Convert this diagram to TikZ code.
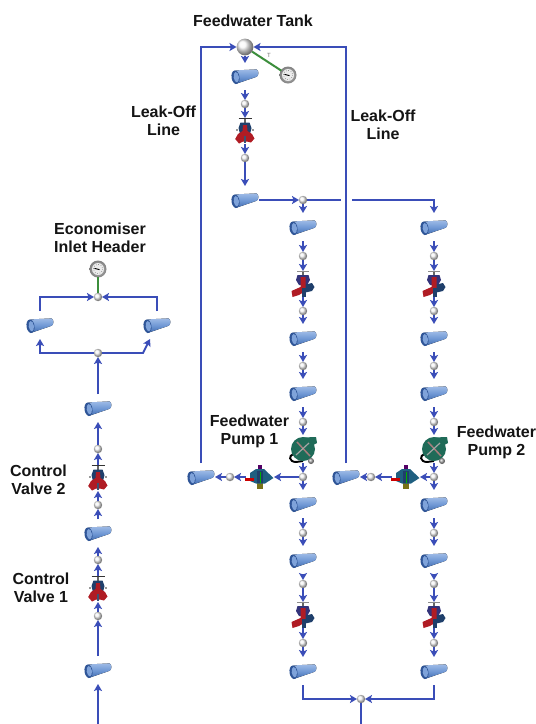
\documentclass[tikz,border=0pt]{standalone}
\usepackage{fontspec}
\setmainfont{Liberation Sans}
\usetikzlibrary{arrows.meta}
\definecolor{pipeline}{HTML}{3A4DB8}
\definecolor{gaugegreen}{HTML}{3C8E3C}
\definecolor{pumpgreen}{HTML}{1F6B58}
\definecolor{navybody}{HTML}{1F3F6B}
\definecolor{valvered}{HTML}{B01C24}
\definecolor{tealbody}{HTML}{1F5F80}
\definecolor{pipetop}{HTML}{9DBAE6}
\definecolor{pipemid}{HTML}{6E97D4}
\definecolor{pipebot}{HTML}{3F69AE}
\definecolor{pipedark}{HTML}{2F5597}
\definecolor{pipein}{HTML}{7FA3DA}
\tikzset{
  flow/.style={draw=pipeline,line width=1.8pt,-{Stealth[length=7pt,width=8pt,inset=1.5pt]}},
  plainflow/.style={draw=pipeline,line width=1.8pt},
  signal/.style={draw=gaugegreen,line width=2pt},
  pipenode/.style={rectangle,minimum width=28,minimum height=28,inner sep=0,outer sep=0},
  ballnode/.style={circle,minimum size=8,inner sep=0,outer sep=0},
  tanknode/.style={circle,minimum size=17,inner sep=0,outer sep=0},
  valvenode/.style={rectangle,minimum width=22,minimum height=26,inner sep=0,outer sep=0},
  recircnode/.style={rectangle,minimum width=28,minimum height=24,inner sep=0,outer sep=0},
  pumpnode/.style={rectangle,minimum width=28,minimum height=28,inner sep=0,outer sep=0},
  gaugenode/.style={circle,minimum size=16,inner sep=0,outer sep=0},
  lbl/.style={font=\fontsize{16}{18}\selectfont\bfseries,text=black!92,align=center,inner sep=0}
}
\newcommand{\PipeIcon}[2]{%
  \begin{scope}[shift={(#2)}]
    \fill[top color=pipetop,bottom color=pipebot,middle color=pipemid]
      (-9.5,-5.6) -- (11.5,-6.6) .. controls (14,-6) and (14,0) .. (11.5,0.8) -- (-9.5,8) -- cycle;
    \fill[rotate around={8:(-9.5,1.2)},fill=pipedark] (-9.5,1.2) ellipse (4 and 6.8);
    \fill[rotate around={8:(-8.7,1.2)},fill=pipein] (-8.7,1.2) ellipse (2.6 and 5.2);
  \end{scope}
  \node[pipenode] (#1) at (#2) {};}
\newcommand{\BallIcon}[2]{%
  \shade[ball color=black!5] (#2) circle (4.2);
  \node[ballnode] (#1) at (#2) {};}
\newcommand{\GaugeIcon}[2]{%
  \begin{scope}[shift={(#2)}]
    \shade[inner color=black!20,outer color=black!50] (0,0) circle (8.5);
    \fill[white!92!black] (0,0) circle (6);
    \draw[black!70,line width=0.5pt,dotted] (0,0) circle (4.8);
    \draw[black,line width=0.9pt] (-3.5,-0.6) -- (1.5,0.6);
  \end{scope}
  \node[gaugenode] (#1) at (#2) {};}
\newcommand{\ValveA}[2]{%
  \begin{scope}[shift={(#2)}]
    \draw[black!80,line width=1.1pt] (-6.5,-12.5) -- (6.5,-12.5);
    \draw[black!60,line width=1.4pt] (0,-12.5) -- (0,-8);
    \fill[navybody] (-4.5,-8.5) -- (4.5,-8.5) -- (6.5,-3) -- (5,3) -- (-5,3) -- (-6.5,-3) -- cycle;
    \fill[valvered] (-9.8,8) -- (-7,3) -- (-2.5,0) -- (-2,-6) -- (2,-6) -- (2.5,0) -- (7,3) -- (9.5,7.5) -- (6,11.5) -- (2,10.5) -- (-2,10.5) -- (-6,12.5) -- cycle;
    \fill[navybody!70!gray] (-1,5) rectangle (1,12);
    \fill[black!40] (-9,-2) rectangle (-7,0);
    \fill[black!40] (7,-2) rectangle (9,0);
  \end{scope}
  \node[valvenode] (#1) at (#2) {};}
\newcommand{\ValveB}[2]{%
  \begin{scope}[shift={(#2)}]
    \draw[black!45,line width=1pt] (-6,-12.5) -- (6,-12.5);
    \draw[black!60,line width=1.4pt] (0,-12.5) -- (0,-8);
    \fill[black!65!blue!80] (-5.5,-9) -- (5.5,-9) -- (7,-4) -- (4,1) -- (-4,1) -- (-7,-4) -- cycle;
    \fill[navybody] (0,1) -- (9,-1) -- (11.5,3) -- (9,7) -- (0,9) -- cycle;
    \fill[valvered] (-11.5,7) -- (-2.5,3) -- (-2.5,-7) -- (2.5,-7) -- (2.5,7) -- (-4,11) -- (-10.5,13) -- cycle;
    \fill[navybody] (-1.5,4) rectangle (2.5,13);
  \end{scope}
  \node[valvenode] (#1) at (#2) {};}
\newcommand{\PumpIcon}[2]{%
  \begin{scope}[shift={(#2)}]
    \fill[pumpgreen] (0,-11.5) -- (13,-12) -- (14,-6) -- (10,-4) -- cycle;
    \draw[black,line width=1.9pt] (-9,5) .. controls (-15,6) and (-14,13) .. (-7,13) -- (0,12);
    \fill[pumpgreen] (0,0) circle (12);
    \draw[black!35!pink,line width=1.5pt] (-6,-7) -- (7,7);
    \draw[black!35,line width=1.2pt] (-7,6) -- (6,-6);
    \shade[ball color=black!35] (8,12) circle (3);
  \end{scope}
  \node[pumpnode] (#1) at (#2) {};}
\newcommand{\RecircIcon}[2]{%
  \begin{scope}[shift={(#2)}]
    \fill[black!45!red!60!blue] (-2,-12) rectangle (2,-3);
    \fill[olive!80!black] (-2.6,4) rectangle (2.6,12);
    \fill[tealbody] (-10,-4) -- (-4,-8) -- (4,-8) -- (13.5,1) -- (5,6.5) -- (-4,6.5) -- (-10,4) -- cycle;
    \fill[navybody] (-3,-6) rectangle (3,6);
    \fill[red!80!black] (-15,1) rectangle (-6,3.6);
    \draw[black!30!green,line width=0.7pt] (0,-5) -- (0,6);
  \end{scope}
  \node[recircnode] (#1) at (#2) {};}
\begin{document}
\begin{tikzpicture}[x=1pt,y=-1pt]
\useasboundingbox (0,0) rectangle (536,724);
\fill[white] (0,0) rectangle (536,724);

% labels
\node[lbl] (tTank) at (253,21) {Feedwater Tank};
\node[lbl] (tLeakL) at (163.5,120.5) {Leak-Off\\Line};
\node[lbl] (tLeakR) at (383,124.5) {Leak-Off\\Line};
\node[lbl] (tEcon) at (100,238) {Economiser\\Inlet Header};
\node[lbl] (tP1) at (249.5,431) {Feedwater\\Pump 1};
\node[lbl] (tP2) at (496.5,442) {Feedwater\\Pump 2};
\node[lbl] (tCV2) at (38.5,480) {Control\\Valve 2};
\node[lbl] (tCV1) at (41,588) {Control\\Valve 1};
\node[font=\fontsize{6}{7}\selectfont,text=black!55,inner sep=0] (tT) at (269,55) {T};

% tank branch
\shade[ball color=black!3] (245,47) circle (8.4);
\node[tanknode] (tank) at (245,47) {};
\GaugeIcon{gTank}{288,75}
\PipeIcon{pA}{245,76}
\BallIcon{bA}{245,104}
\ValveA{vA}{245,131}
\BallIcon{bB}{245,158}
\PipeIcon{pB}{245,200}
\BallIcon{jTop}{303,200}

% pump 1 column
\PipeIcon{c1a}{303,227}
\BallIcon{c1b}{303,256}
\ValveB{c1v}{303,284}
\BallIcon{c1c}{303,311}
\PipeIcon{c1d}{303,338}
\BallIcon{c1e}{303,366}
\PipeIcon{c1f}{303,393}
\BallIcon{c1g}{303,422}
\PumpIcon{c1p}{303,449}
\BallIcon{c1j}{303,477}
\PipeIcon{c1h}{303,504}
\BallIcon{c1i}{303,533}
\PipeIcon{c1k}{303,560}
\BallIcon{c1l}{303,584}
\ValveB{c1w}{303,615}
\BallIcon{c1m}{303,643}
\PipeIcon{c1n}{303,671}

% pump 2 column
\PipeIcon{c2a}{434,227}
\BallIcon{c2b}{434,256}
\ValveB{c2v}{434,284}
\BallIcon{c2c}{434,311}
\PipeIcon{c2d}{434,338}
\BallIcon{c2e}{434,366}
\PipeIcon{c2f}{434,393}
\BallIcon{c2g}{434,422}
\PumpIcon{c2p}{434,449}
\BallIcon{c2j}{434,477}
\PipeIcon{c2h}{434,504}
\BallIcon{c2i}{434,533}
\PipeIcon{c2k}{434,560}
\BallIcon{c2l}{434,584}
\ValveB{c2w}{434,615}
\BallIcon{c2m}{434,643}
\PipeIcon{c2n}{434,671}

% recirculation
\RecircIcon{r1v}{260,477}
\BallIcon{r1b}{230,477}
\PipeIcon{r1p}{201,477}
\RecircIcon{r2v}{406,477}
\BallIcon{r2b}{371,477}
\PipeIcon{r2p}{346,477}

% merge
\BallIcon{jBot}{361,699}
\coordinate (botR) at (361,724);

% left column
\GaugeIcon{gEcon}{98,269}
\BallIcon{eTop}{98,297}
\PipeIcon{eL}{40,325}
\PipeIcon{eR}{157,325}
\BallIcon{eBot}{98,353}
\PipeIcon{l1}{98,408}
\BallIcon{l2}{98,449}
\ValveA{l3}{98,478}
\BallIcon{l4}{98,505}
\PipeIcon{l5}{98,533}
\BallIcon{l6}{98,560}
\ValveA{l7}{98,589}
\BallIcon{l8}{98,616}
\PipeIcon{l9}{98,670}
\coordinate (botL) at (98,724);
\coordinate (kink) at (143,353);
\coordinate (gapL) at (341,200);
\coordinate (gapR) at (352,200);

% connectors
\draw[signal] (tank) -- (gTank);
\draw[signal] (gEcon) -- (eTop);
\draw[flow] (r1p.north) |- (tank);
\draw[flow] (r2p.north) |- (tank);
\draw[flow] (tank) -- ([yshift=-1pt]pA.north);
\draw[flow] (pA) -- (bA);
\draw[flow] (bA) -- (vA);
\draw[flow] (vA) -- (bB);
\draw[flow] (bB) -- (pB);
\draw[flow] (pB) -- (jTop);
\draw[plainflow] (jTop) -- (gapL);
\draw[flow] (gapR) -| (c2a);
\foreach \col in {c1,c2} {
  \draw[flow] (\col a) -- (\col b);
  \draw[flow] (\col b) -- (\col v);
  \draw[flow] (\col v) -- (\col c);
  \draw[flow] (\col c) -- (\col d);
  \draw[flow] (\col d) -- (\col e);
  \draw[flow] (\col e) -- (\col f);
  \draw[flow] (\col f) -- (\col g);
  \draw[flow] (\col g) -- (\col p);
  \draw[flow] (\col p) -- (\col j);
  \draw[flow] (\col j) -- (\col h);
  \draw[flow] (\col h) -- (\col i);
  \draw[flow] (\col i) -- (\col k);
  \draw[flow] (\col k) -- (\col l);
  \draw[flow] (\col l) -- (\col w);
  \draw[flow] (\col w) -- (\col m);
  \draw[flow] (\col m) -- (\col n);
}
\draw[flow] (jTop) -- (c1a);
\draw[flow] (c1j) -- (r1v);
\draw[flow] (r1v) -- (r1b);
\draw[flow] (r1b) -- (r1p);
\draw[flow] (c2j) -- (r2v);
\draw[flow] (r2v) -- (r2b);
\draw[flow] (r2b) -- (r2p);
\draw[flow] (c1n.south) |- (jBot);
\draw[flow] (c2n.south) |- (jBot);
\draw[plainflow] (jBot) -- (botR);
\draw[flow] (botL) -- (l9);
\draw[flow] (l9) -- (l8);
\draw[flow] (l8) -- (l7);
\draw[flow] (l7) -- (l6);
\draw[flow] (l6) -- (l5);
\draw[flow] (l5) -- (l4);
\draw[flow] (l4) -- (l3);
\draw[flow] (l3) -- (l2);
\draw[flow] (l2) -- (l1);
\draw[flow] (l1) -- (eBot);
\draw[flow] (eBot) -| (eL.south);
\draw[flow] (eBot) -- (kink) -- ([xshift=-7pt]eR.south);
\draw[flow] (eL.north) |- (eTop);
\draw[flow] (eR.north) |- (eTop);
\end{tikzpicture}
\end{document}
